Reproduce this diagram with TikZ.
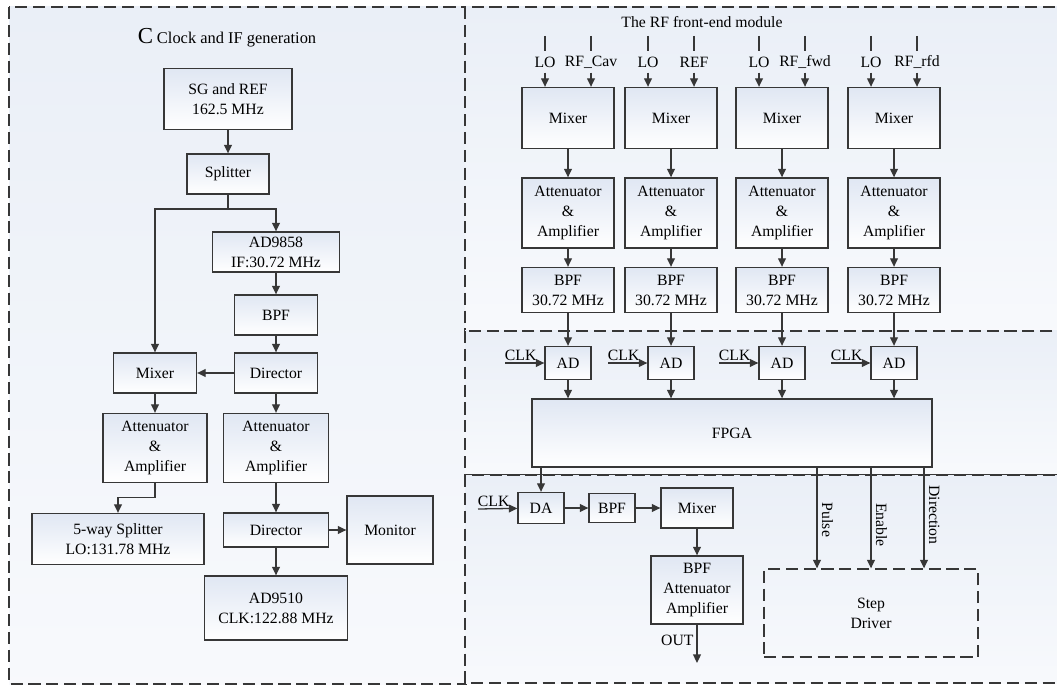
\documentclass[tikz,border=0pt]{standalone}
\usepackage{fontspec}
\setmainfont{Liberation Serif}
\usepackage{tikz}
\usetikzlibrary{arrows.meta, calc, positioning}

\definecolor{panelbg}{RGB}{234,239,247}
\definecolor{boxtop}{RGB}{224,231,243}
\definecolor{edge}{RGB}{55,55,55}
\tikzset{
  blk/.style 2 args={draw=edge, top color=boxtop, bottom color=white, align=center,
    minimum width=#1*0.7pt, minimum height=#2*0.7pt, inner sep=1pt},
  lbl/.style={inner sep=1pt, minimum height=14pt},
  panel/.style={draw=edge, dash pattern=on 8.5pt off 4pt, top color=panelbg, bottom color=panelbg!35!white},
}

\begin{document}
\begin{tikzpicture}[x=0.7pt, y=-0.7pt, >={Triangle[length=6pt,width=5.5pt]},
    line width=0.9pt, draw=edge, font=\fontsize{11}{14}\selectfont]
  \useasboundingbox (0,0) rectangle (1057,686);
  \clip (0,0) rectangle (1057,686);
  % panels
  \draw[panel] (9,7) rectangle (466,684);
  \draw[panel] (465,7) rectangle (1070,331);
  \draw[panel] (465,331) rectangle (1070,475);
  \draw[panel] (465,475) rectangle (1070,683);
  \node (ttlL) at (227,38) {{\fontsize{16}{16}\selectfont C} \fontsize{11.5}{14}\selectfont Clock and IF generation};
  \node (ttlR) at (702,22) {The RF front-end module};

  % clock and IF generation
  \node[blk={128}{61}] (sg) at (228,99) {SG and REF\\162.5 MHz};
  \node[blk={82}{40}] (split) at (228,174) {Splitter};
  \node[blk={127}{40}] (ad98) at (276,252) {AD9858\\IF:30.72 MHz};
  \node[blk={83}{40}] (bpfL) at (276,315) {BPF};
  \node[blk={83}{40}] (dir1) at (276,373) {Director};
  \node[blk={83}{40}] (mixL) at (155,373) {Mixer};
  \node[blk={104}{69}] (attL) at (155,448) {Attenuator\\\&\\Amplifier};
  \node[blk={105}{69}] (attR) at (276,448) {Attenuator\\\&\\Amplifier};
  \node[blk={172}{51}] (split5) at (118,539) {5-way Splitter\\LO:131.78 MHz};
  \node[blk={105}{34}] (dir2) at (276,530) {Director};
  \node[blk={86}{68}] (mon) at (390,530) {Monitor};
  \node[blk={143}{64}] (ad95) at (276,608) {AD9510\\CLK:122.88 MHz};
  \coordinate (fork) at (228,209);
  \draw[->] (sg) -- (split);
  \draw (split) -- (fork);
  \draw[->] (fork) -| (ad98);
  \draw[->] (fork) -| (mixL);
  \draw[->] (ad98) -- (bpfL);
  \draw[->] (bpfL) -- (dir1);
  \draw[->] (dir1) -- (mixL);
  \draw[->] (mixL) -- (attL);
  \draw[->] (dir1) -- (attR);
  \draw[->] (attL.south) -- ++(0,14) -| (split5.north);
  \draw[->] (attR) -- (dir2);
  \draw[->] (dir2) -- (mon);
  \draw[->] (dir2) -- (ad95);

  % RF front-end channels
  \node[blk={400}{68}] (fpga) at (732,433) {FPGA};
  \foreach \x/\n/\rf in {568/1/RF\_Cav, 671/2/REF, 782/3/RF\_fwd, 894/4/RF\_rfd} {
    \node[blk={92}{61}] (mix\n) at (\x,118) {Mixer};
    \node[blk={92}{70}] (att\n) at (\x,213) {Attenuator\\\&\\Amplifier};
    \node[blk={92}{45}] (bpf\n) at (\x,290) {BPF\\30.72 MHz};
    \node[blk={46}{33}] (ad\n) at (\x,363) {AD};
    \node[lbl] (lo\n) at (\x-23,62) {LO};
    \node[lbl] (rf\n) at (\x+23,62) {\rf};
    \coordinate (lotop\n) at (\x-23,36);
    \coordinate (rftop\n) at (\x+23,36);
    \coordinate (clk\n) at (\x-63,363);
    \draw (lotop\n) -- (lo\n);
    \draw (rftop\n) -- (rf\n);
    \draw[->] (lo\n) -- (lo\n |- mix\n.north);
    \draw[->] (rf\n) -- (rf\n |- mix\n.north);
    \draw[->] (mix\n) -- (att\n);
    \draw[->] (att\n) -- (bpf\n);
    \draw[->] (bpf\n) -- (ad\n);
    \draw[->] (clk\n) -- (ad\n);
    \node[above right, inner sep=1.5pt, xshift=-2pt] (clklbl\n) at (clk\n) {CLK};
    \draw[->] (ad\n) -- (ad\n |- fpga.north);
  }

  % output chain
  \node[blk={46}{31}] (da) at (541,508) {DA};
  \node[blk={46}{29}] (bpfB) at (612,508) {BPF};
  \node[blk={72}{40}] (mixB) at (697,508) {Mixer};
  \node[blk={92}{68}] (outblk) at (697,590) {BPF\\Attenuator\\Amplifier};
  \node[draw=edge, dash pattern=on 8.5pt off 4pt, align=center, minimum width=214*0.7pt,
    minimum height=88*0.7pt] (drv) at (871,613) {Step\\Driver};
  \coordinate (clkDA) at (478,509);
  \coordinate (out) at (697,663);
  \draw[->] (fpga.south -| da) -- (da);
  \draw[->] (clkDA) -- (da);
  \node[above right, inner sep=1.5pt, xshift=-2pt] (clklblDA) at (clkDA) {CLK};
  \draw[->] (da) -- (bpfB);
  \draw[->] (bpfB) -- (mixB);
  \draw[->] (mixB) -- (outblk);
  \draw[->] (outblk) -- (out) node[pos=0.4, left, inner sep=2pt] (outlbl) {OUT};
  % motor signals
  \foreach \x/\t/\p in {817/Pulse/0.52, 871/Enable/0.57, 924/Direction/0.47}
    \draw[->] (fpga.south -| \x,0) -- (drv.north -| \x,0)
      node[pos=\p, rotate=-90, anchor=south, inner sep=3pt] {\t};
\end{tikzpicture}
\end{document}
